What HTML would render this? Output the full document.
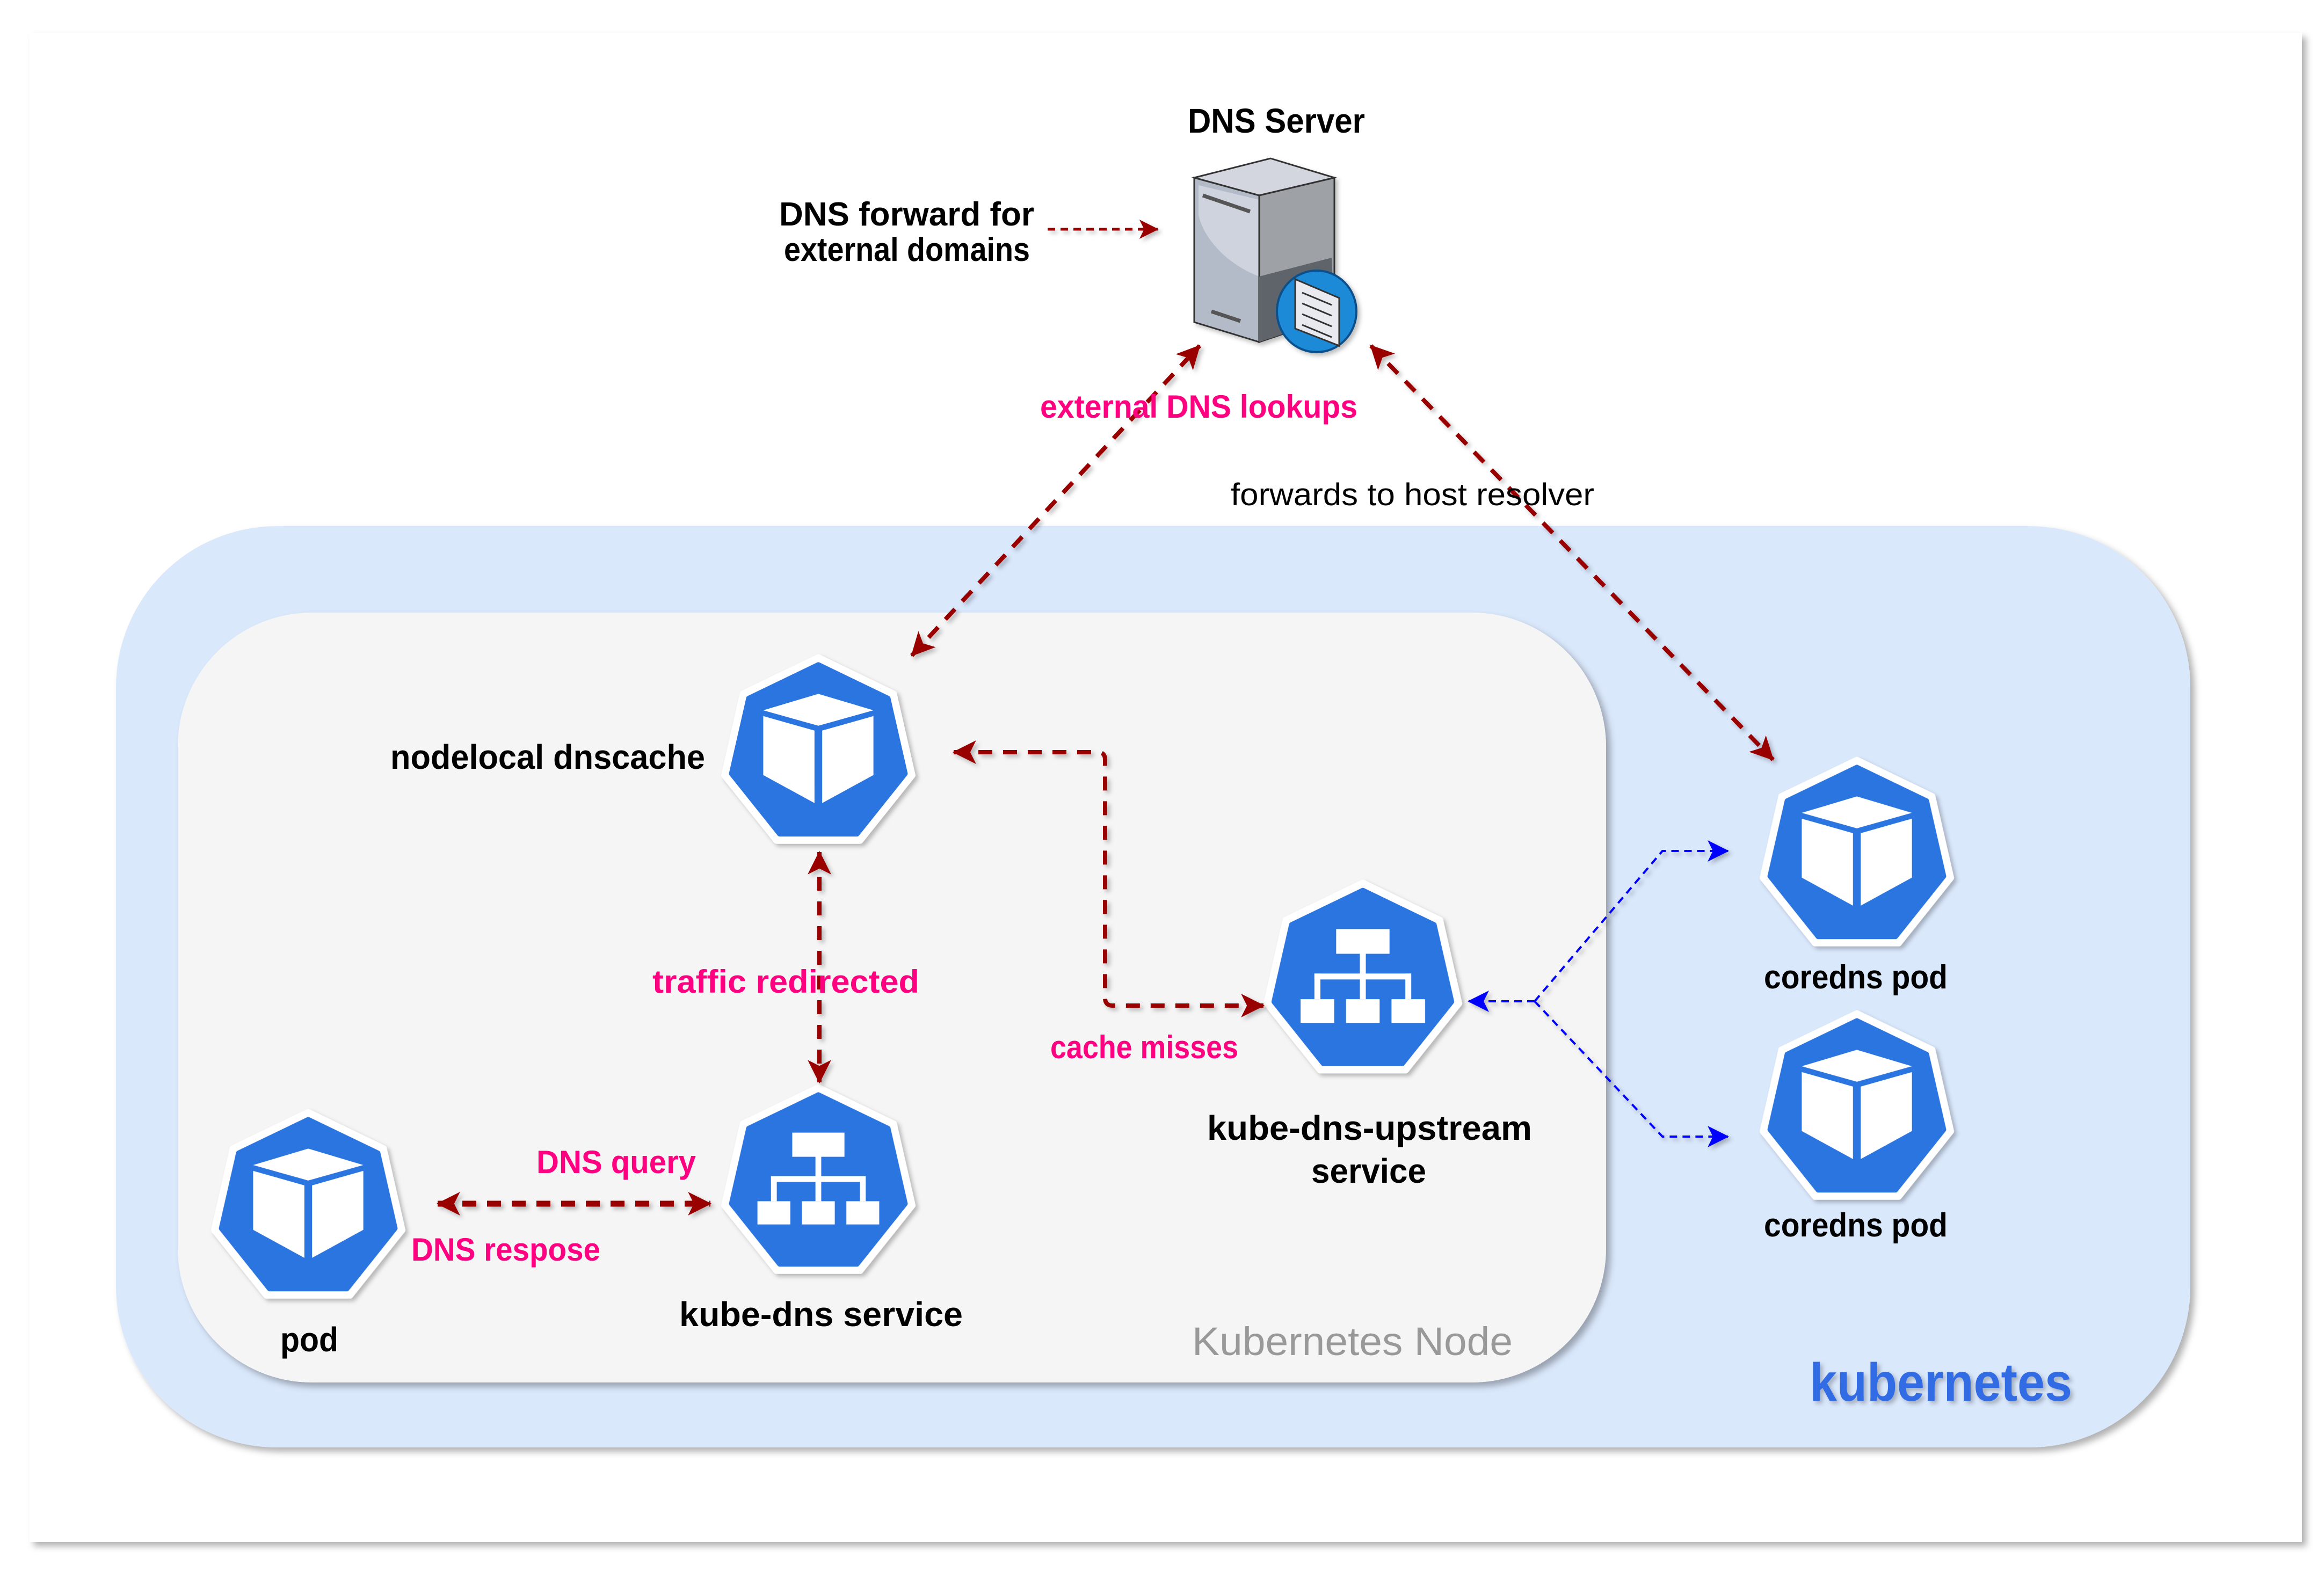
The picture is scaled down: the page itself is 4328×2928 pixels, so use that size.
<!DOCTYPE html>
<html><head><meta charset="utf-8"><style>
html,body{margin:0;padding:0;background:#fff;}
svg{display:block;}
text{font-family:"Liberation Sans",sans-serif;}
</style></head><body>
<svg width="4328" height="2928" viewBox="0 0 4328 2928" xmlns="http://www.w3.org/2000/svg">
<defs>
<filter id="sh" x="-10%" y="-10%" width="130%" height="130%"><feDropShadow dx="8" dy="8" stdDeviation="6" flood-color="#000" flood-opacity="0.3"/></filter>
<filter id="shs" x="-20%" y="-20%" width="150%" height="150%"><feDropShadow dx="5" dy="5" stdDeviation="4" flood-color="#000" flood-opacity="0.25"/></filter>
<marker id="ar" viewBox="0 0 20 20" refX="19" refY="10" markerWidth="44" markerHeight="44" markerUnits="userSpaceOnUse" orient="auto-start-reverse"><path d="M0,0 L20,10 L0,20 L5,10 Z" fill="#990000"/></marker>
<marker id="ars" viewBox="0 0 20 20" refX="19" refY="10" markerWidth="36" markerHeight="36" markerUnits="userSpaceOnUse" orient="auto"><path d="M0,0 L20,10 L0,20 L5,10 Z" fill="#990000"/></marker>
<marker id="ab" viewBox="0 0 20 20" refX="19" refY="10" markerWidth="40" markerHeight="40" markerUnits="userSpaceOnUse" orient="auto"><path d="M0,0 L20,10 L0,20 L5,10 Z" fill="#0000ff"/></marker>
<g id="hept">
<polygon points="0,-100 78.2,-62.3 97.5,22.3 43.4,90.1 -43.4,90.1 -97.5,22.3 -78.2,-62.3" fill="#fff" stroke="#fff" stroke-width="6" stroke-linejoin="round"/>
<polygon transform="scale(0.92)" points="0,-100 78.2,-62.3 97.5,22.3 43.4,90.1 -43.4,90.1 -97.5,22.3 -78.2,-62.3" fill="#2a75e0" stroke="#2a75e0" stroke-width="6" stroke-linejoin="round"/>
</g>
<g id="cube">
<polygon points="0,-62 -57,-45 0,-29 57,-45" fill="#fff"/>
<polygon points="-57,-39 -4,-24 -4,51 -57,22" fill="#fff"/>
<polygon points="57,-39 4,-24 4,51 57,22" fill="#fff"/>
</g>
<g id="svc" fill="#fff">
<rect x="-27" y="-53" width="54" height="25"/>
<rect x="-3" y="-28" width="6" height="46"/>
<rect x="-49" y="-8" width="98" height="6"/>
<rect x="-49" y="-8" width="6" height="26"/>
<rect x="43" y="-8" width="6" height="26"/>
<rect x="-63" y="18" width="34" height="24"/>
<rect x="-17" y="18" width="34" height="24"/>
<rect x="29" y="18" width="34" height="24"/>
</g>
</defs>

<!-- outer card -->
<rect x="55" y="61" width="4232" height="2811" fill="#fff" filter="url(#sh)"/>
<!-- kubernetes container -->
<rect x="216" y="980" width="3863" height="1716" rx="300" fill="#dae8fc" filter="url(#sh)"/>
<!-- node container -->
<rect x="331" y="1141" width="2660" height="1434" rx="250" fill="#f5f5f5" filter="url(#sh)"/>

<!-- server icon -->
<g filter="url(#shs)">
<polygon points="2224,331 2366,295 2485,331 2345,364" fill="#d3d6df" stroke="#333" stroke-width="3"/>
<polygon points="2224,331 2345,364 2345,637 2224,600" fill="#b3bac8" stroke="#333" stroke-width="3"/>
<path d="M2232,345 L2345,372 L2345,515 C2280,490 2240,440 2232,400 Z" fill="#ced3de"/>
<polygon points="2345,364 2485,331 2485,590 2345,637" fill="#9ea1a6" stroke="#333" stroke-width="3"/>
<polygon points="2345,515 2480,480 2485,590 2345,637" fill="#5e646b"/>
<line x1="2240" y1="364" x2="2328" y2="394" stroke="#555" stroke-width="7"/>
<line x1="2256" y1="580" x2="2310" y2="598" stroke="#555" stroke-width="7"/>
<ellipse cx="2452" cy="580" rx="74" ry="76" fill="#1c8ad6" stroke="#0b4f8a" stroke-width="4"/>
<polygon points="2412,520 2494,555 2494,644 2412,612" fill="#e8eaf0" stroke="#333" stroke-width="3"/>
<g stroke="#333" stroke-width="3"><line x1="2425" y1="545" x2="2480" y2="568"/><line x1="2425" y1="565" x2="2480" y2="588"/><line x1="2425" y1="585" x2="2480" y2="608"/><line x1="2425" y1="605" x2="2480" y2="628"/></g>
</g>

<!-- heptagons -->
<g filter="url(#shs)">
<g transform="translate(1524,1404) scale(1.8)"><use href="#hept"/><use href="#cube"/></g>
<g transform="translate(1524,2205) scale(1.8)"><use href="#hept"/><use href="#svc"/></g>
<g transform="translate(574,2251) scale(1.8)"><use href="#hept"/><use href="#cube"/></g>
<g transform="translate(2538,1828) scale(1.84)"><use href="#hept"/><use href="#svc"/></g>
<g transform="translate(3458,1595) scale(1.8)"><use href="#hept"/><use href="#cube"/></g>
<g transform="translate(3458,2067) scale(1.8)"><use href="#hept"/><use href="#cube"/></g>
</g>

<!-- red connectors -->
<g fill="none" stroke="#990000" stroke-width="8" stroke-dasharray="26 20" filter="url(#shs)">
<line x1="1698" y1="1221" x2="2234" y2="644" marker-start="url(#ar)" marker-end="url(#ar)"/>
<line x1="2553" y1="644" x2="3302" y2="1415" marker-start="url(#ar)" marker-end="url(#ar)"/>
<line x1="1526" y1="1587" x2="1526" y2="2016" marker-start="url(#ar)" marker-end="url(#ar)"/>
<path d="M1776,1401 L2044,1401 Q2058,1401 2058,1415 L2058,1859 Q2058,1873 2072,1873 L2353,1873" marker-start="url(#ar)" marker-end="url(#ar)"/>
<line x1="815" y1="2242" x2="1323" y2="2242" stroke-width="11" marker-start="url(#ar)" marker-end="url(#ar)"/>
<line x1="1951" y1="427" x2="2156" y2="427" stroke-width="5" stroke-dasharray="14 10" marker-end="url(#ars)"/>
</g>
<!-- blue connectors -->
<g fill="none" stroke="#0000ff" stroke-width="4" stroke-dasharray="14 10" filter="url(#shs)">
<line x1="2858" y1="1865" x2="2735" y2="1865" marker-end="url(#ab)"/>
<polyline points="2858,1865 3096,1585 3218,1585" marker-end="url(#ab)"/>
<polyline points="2858,1865 3096,2117 3218,2117" marker-end="url(#ab)"/>
</g>

<!-- labels -->
<g font-weight="bold" fill="#000">
<text x="2212" y="247" font-size="64" textLength="330" lengthAdjust="spacingAndGlyphs">DNS Server</text>
<text x="1451" y="420" font-size="62" textLength="475" lengthAdjust="spacingAndGlyphs">DNS forward for</text>
<text x="1460" y="486" font-size="62" textLength="458" lengthAdjust="spacingAndGlyphs">external domains</text>
<text x="727" y="1432" font-size="64" textLength="586" lengthAdjust="spacingAndGlyphs">nodelocal dnscache</text>
<text x="2248" y="2123" font-size="64" textLength="605" lengthAdjust="spacingAndGlyphs">kube-dns-upstream</text>
<text x="2442" y="2203" font-size="64" textLength="214" lengthAdjust="spacingAndGlyphs">service</text>
<text x="3285" y="1841" font-size="62" textLength="342" lengthAdjust="spacingAndGlyphs">coredns pod</text>
<text x="3285" y="2303" font-size="62" textLength="342" lengthAdjust="spacingAndGlyphs">coredns pod</text>
<text x="1265" y="2470" font-size="64" textLength="528" lengthAdjust="spacingAndGlyphs">kube-dns service</text>
<text x="522" y="2517" font-size="64" textLength="108" lengthAdjust="spacingAndGlyphs">pod</text>
</g>
<text x="2292" y="941" font-size="58" textLength="677" lengthAdjust="spacingAndGlyphs" fill="#000">forwards to host resolver</text>
<g font-weight="bold" fill="#ff0080">
<text x="1937" y="778" font-size="60" textLength="591" lengthAdjust="spacingAndGlyphs">external DNS lookups</text>
<text x="1215" y="1849" font-size="60" textLength="497" lengthAdjust="spacingAndGlyphs">traffic redirected</text>
<text x="1956" y="1971" font-size="60" textLength="350" lengthAdjust="spacingAndGlyphs">cache misses</text>
<text x="999" y="2185" font-size="60" textLength="297" lengthAdjust="spacingAndGlyphs">DNS query</text>
<text x="766" y="2348" font-size="60" textLength="352" lengthAdjust="spacingAndGlyphs">DNS respose</text>
</g>
<text x="2220" y="2524" font-size="74" textLength="597" lengthAdjust="spacingAndGlyphs" fill="#999">Kubernetes Node</text>
<text x="3370" y="2609" font-size="100" font-weight="bold" textLength="489" lengthAdjust="spacingAndGlyphs" fill="#326ce5" filter="url(#shs)">kubernetes</text>
</svg>
</body></html>
